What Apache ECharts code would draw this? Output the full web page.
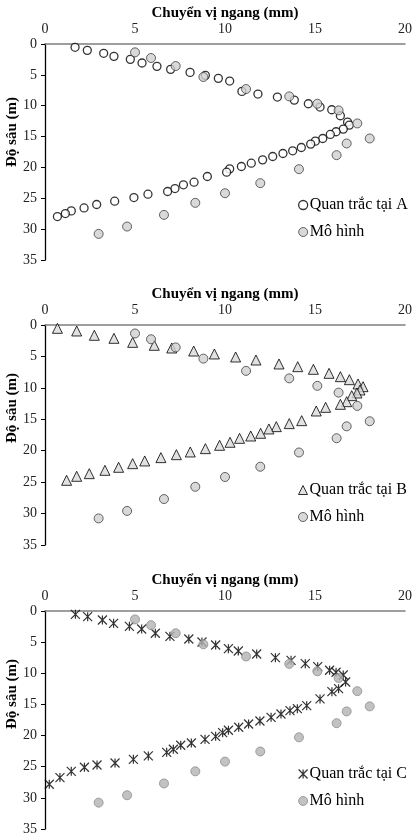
<!DOCTYPE html>
<html>
<head>
<meta charset="utf-8">
<script src="https://cdn.jsdelivr.net/npm/echarts@6/dist/echarts.min.js"></script>
<style>
  html, body { margin: 0; padding: 0; background: #fff; }
  #chart { width: 412px; height: 835px; }
</style>
</head>
<body>
<div id="chart"></div>
<script>
// model (same in all three panels): displacement (mm) / depth (m)
var modelDisp = [5.0, 5.89, 7.26, 8.8, 11.17, 13.57, 15.13, 16.31, 17.35, 18.04, 16.76, 16.2, 14.11, 11.96, 10.0, 8.35, 6.61, 4.56, 2.98];
var modelDepth = [1.35, 2.27, 3.57, 5.35, 7.3, 8.49, 9.68, 10.76, 12.87, 15.31, 16.12, 18.01, 20.28, 22.55, 24.18, 25.74, 27.69, 29.58, 30.77];

// observation at A
var obsADisp = [1.67, 2.35, 3.26, 3.83, 4.74, 5.39, 6.22, 6.98, 8.06, 8.91, 9.63, 10.26, 10.94, 11.83, 12.91, 13.85, 14.63, 15.28, 15.93, 16.41,
    16.81, 16.91, 16.57, 16.17, 15.85, 15.43, 15.02, 14.76, 14.24, 13.76, 13.22, 12.65, 12.09, 11.46, 10.91, 10.26, 10.09, 9.02, 8.28, 7.69,
    7.22, 6.81, 5.72, 4.94, 3.87, 2.87, 2.17, 1.46, 1.13, 0.69];
var obsADepth = [0.54, 1.03, 1.51, 2.0, 2.49, 3.08, 3.62, 4.11, 4.6, 5.08, 5.57, 6.0, 7.68, 8.11, 8.6, 9.09, 9.68, 10.22, 10.65, 11.63,
    12.66, 13.14, 13.79, 14.22, 14.66, 15.31, 15.74, 16.22, 16.77, 17.31, 17.74, 18.23, 18.77, 19.31, 19.85, 20.23, 20.77, 21.47, 22.39, 22.82,
    23.42, 23.9, 24.34, 24.88, 25.47, 26.01, 26.56, 27.04, 27.47, 27.96];

// observation at B
var obsBDisp = [0.69, 1.76, 2.74, 3.83, 4.87, 6.07, 7.04, 8.26, 9.41, 10.59, 11.72, 13.0, 14.04, 14.91, 15.78, 16.41, 16.91, 17.39, 17.67, 17.5,
    17.33, 17.04, 16.76, 16.41, 15.59, 15.07, 14.26, 13.57, 12.85, 12.44, 11.98, 11.43, 10.81, 10.28, 9.7, 8.91, 8.07, 7.3, 6.44, 5.54,
    4.87, 4.09, 3.33, 2.46, 1.76, 1.2];
var obsBDepth = [0.53, 0.95, 1.64, 2.12, 2.76, 3.23, 3.66, 4.14, 4.61, 5.09, 5.57, 6.2, 6.63, 7.05, 7.69, 8.22, 8.7, 9.38, 9.81, 10.34,
    10.82, 11.24, 12.2, 12.62, 13.1, 13.68, 15.22, 15.69, 16.17, 16.54, 17.23, 17.66, 18.03, 18.66, 19.14, 19.67, 20.2, 20.63, 21.1, 21.63,
    22.06, 22.64, 23.12, 23.65, 24.07, 24.71];

// observation at C
var obsCDisp = [1.69, 2.37, 3.19, 3.81, 4.69, 5.37, 6.13, 6.94, 7.99, 8.72, 9.48, 10.19, 10.74, 11.76, 12.8, 13.67, 14.46, 15.15, 15.81, 16.17,
    16.57, 16.7, 16.31, 15.94, 15.28, 14.54, 14.02, 13.61, 13.11, 12.56, 11.94, 11.31, 10.76, 10.19, 9.87, 9.48, 8.89, 8.13, 7.54, 7.13,
    6.76, 5.74, 4.91, 3.89, 2.89, 2.19, 1.46, 0.83, 0.24];
var obsCDepth = [0.54, 0.91, 1.44, 1.98, 2.46, 2.89, 3.58, 4.07, 4.49, 4.98, 5.46, 6.05, 6.42, 6.9, 7.49, 7.92, 8.45, 8.94, 9.52, 9.84,
    10.27, 11.4, 12.47, 12.95, 14.12, 15.2, 15.68, 16.0, 16.53, 17.07, 17.66, 18.14, 18.67, 19.15, 19.53, 20.12, 20.6, 21.19, 21.56, 22.2,
    22.69, 23.27, 23.81, 24.4, 24.72, 25.09, 25.74, 26.75, 27.82];

var xTitle = 'Chuyển vị ngang (mm)';
var yTitle = 'Độ sâu (m)';
var obsNames = ['Quan trắc tại A', 'Quan trắc tại B', 'Quan trắc tại C'];
var modelName = 'Mô hình';

var FONT = "'Liberation Serif', 'Times New Roman', serif";
var STAR = 'path://M0,0L10,10M10,0L0,10M5,0L5,10';

function pairs(xs, ys) {
    var out = [];
    for (var i = 0; i < xs.length; i++) {
        out.push([xs[i], ys[i]]);
    }
    return out;
}

// panel layout: top of plot, height, y-name shift, legend top
var panels = [
    { top: 44, height: 216, namePad: 40, legendTop: 192 },
    { top: 325, height: 220, namePad: 54, legendTop: 477 },
    { top: 611, height: 218, namePad: 52, legendTop: 761 }
];

var obsStyles = [
    { symbol: 'circle', size: 8, itemStyle: { color: '#fff', borderColor: '#000', borderWidth: 1.3 } },
    { symbol: 'triangle', size: 10, itemStyle: { color: '#d9d9d9', borderColor: '#000', borderWidth: 1 } },
    { symbol: STAR, size: 9, itemStyle: { color: 'transparent', borderColor: '#000', borderWidth: 1.2 } }
];
var modelStyles = [
    { color: '#cfcfcf', borderColor: '#404040', borderWidth: 1 },
    { color: '#cfcfcf', borderColor: '#404040', borderWidth: 1 },
    { color: '#b3b3b3', borderColor: '#8c8c8c', borderWidth: 1 }
];
var obsData = [pairs(obsADisp, obsADepth), pairs(obsBDisp, obsBDepth), pairs(obsCDisp, obsCDepth)];

var grids = [], xAxes = [], yAxes = [], series = [], legends = [];

panels.forEach(function (p, i) {
    grids.push({ left: 45, top: p.top, width: 360, height: p.height, containLabel: false, outerBoundsMode: 'none' });
    xAxes.push({
        gridIndex: i,
        type: 'value',
        position: 'top',
        min: 0,
        max: 20,
        interval: 5,
        name: xTitle,
        nameLocation: 'middle',
        nameGap: 20,
        nameTextStyle: { fontFamily: FONT, fontWeight: 'bold', fontSize: 15, color: '#000' },
        axisLine: { show: true, onZero: false, lineStyle: { color: '#7f7f7f', width: 1.5 } },
        axisTick: { show: false },
        axisLabel: { fontFamily: FONT, fontSize: 14, color: '#222', margin: 8 },
        splitLine: { show: false }
    });
    yAxes.push({
        gridIndex: i,
        type: 'value',
        inverse: true,
        min: 0,
        max: 35,
        interval: 5,
        name: yTitle,
        nameLocation: 'middle',
        nameGap: 25,
        nameMoveOverlap: false,
        nameRotate: 90,
        nameTextStyle: { fontFamily: FONT, fontWeight: 'bold', fontSize: 15, color: '#000', padding: [0, 0, 0, p.namePad] },
        axisLine: { show: true, onZero: false, lineStyle: { color: '#000', width: 1.3 } },
        axisTick: { show: true, length: 4, lineStyle: { color: '#000' } },
        axisLabel: { fontFamily: FONT, fontSize: 14, color: '#222', margin: 8 },
        splitLine: { show: false }
    });
    var os = obsStyles[i];
    series.push({
        name: obsNames[i],
        type: 'scatter',
        xAxisIndex: i,
        yAxisIndex: i,
        symbol: os.symbol,
        symbolSize: os.size,
        itemStyle: os.itemStyle,
        data: obsData[i]
    });
    series.push({
        name: modelName,
        type: 'scatter',
        xAxisIndex: i,
        yAxisIndex: i,
        symbol: 'circle',
        symbolSize: 9,
        itemStyle: modelStyles[i],
        data: pairs(modelDisp, modelDepth)
    });
    legends.push({
        orient: 'vertical',
        left: 293,
        top: p.legendTop,
        itemWidth: 9,
        itemHeight: 9,
        itemGap: 11,
        selectedMode: false,
        textStyle: { fontFamily: FONT, fontSize: 16, color: '#000', padding: [0, 0, 0, -3] },
        data: [
            { name: obsNames[i], icon: os.symbol, itemStyle: os.itemStyle },
            { name: modelName, icon: 'circle', itemStyle: modelStyles[i] }
        ]
    });
});

var chart = echarts.init(document.getElementById('chart'));
chart.setOption({
    backgroundColor: '#fff',
    animation: false,
    grid: grids,
    xAxis: xAxes,
    yAxis: yAxes,
    legend: legends,
    series: series
});
</script>
</body>
</html>
